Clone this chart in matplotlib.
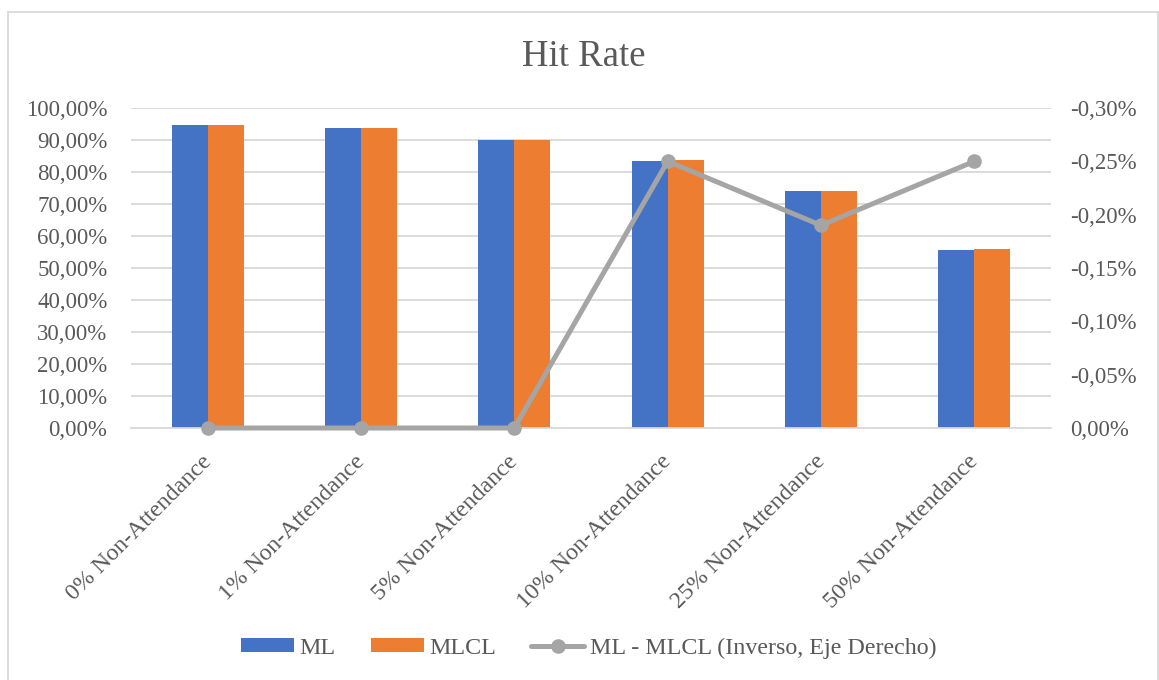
import matplotlib.pyplot as plt
import matplotlib.transforms as mtransforms
from matplotlib.lines import Line2D
from matplotlib.patches import Patch
import numpy as np

categorias = ['0% Non-Attendance', '1% Non-Attendance', '5% Non-Attendance',
              '10% Non-Attendance', '25% Non-Attendance', '50% Non-Attendance']
hit_ml = [94.7, 93.6, 90.0, 83.4, 74.0, 55.5]
hit_mlcl = [94.7, 93.6, 90.0, 83.7, 74.0, 55.8]
diferencia = [0.0, 0.0, 0.0, -0.25, -0.19, -0.25]

azul = '#4472C4'
naranja = '#ED7D31'
gris = '#A5A5A5'
texto = '#595959'

plt.rcParams['font.family'] = ['Liberation Serif', 'DejaVu Serif']

fig = plt.figure(figsize=(11.59, 6.8), dpi=100)
ax = fig.add_axes([131 / 1159, 1 - 428 / 680, 920 / 1159, 320 / 680])

x = np.arange(len(categorias))
ancho = 0.235
ax.bar(x - ancho / 2, hit_ml, ancho, color=azul, zorder=2)
ax.bar(x + ancho / 2, hit_mlcl, ancho, color=naranja, zorder=2)

ax.set_xlim(-0.5, len(categorias) - 0.5)
ax.set_ylim(0, 100)
ax.set_yticks(np.arange(0, 101, 10))
ax.set_yticklabels([f'{v:.2f}%'.replace('.', ',') for v in np.arange(0, 101, 10)])
ax.yaxis.grid(True, color='#D9D9D9', linewidth=1.3, zorder=0)
ax.set_axisbelow(True)
for s in ax.spines.values():
    s.set_visible(False)
ax.spines['bottom'].set_visible(True)
ax.spines['bottom'].set_color('#D9D9D9')
ax.spines['bottom'].set_linewidth(1.3)
ax.tick_params(axis='y', length=0, pad=17, labelsize=16.5, labelcolor=texto)
ax.tick_params(axis='x', length=0, pad=16, labelsize=17.2, labelcolor=texto)
ax.set_xticks(x)
ax.set_xticklabels(categorias, rotation=45, ha='right', va='top')
desplazar = mtransforms.ScaledTranslation(8 / 100, -1 / 100, fig.dpi_scale_trans)
for lbl in ax.get_xticklabels():
    lbl.set_transform(lbl.get_transform() + desplazar)

# eje derecho invertido para la diferencia
ax2 = ax.twinx()
ax2.plot(x, diferencia, color=gris, linewidth=3.6, marker='o', markersize=9.5,
         solid_capstyle='round', zorder=3, clip_on=False)
ax2.set_ylim(0, -0.30)
ticks2 = np.round(np.arange(0, -0.301, -0.05), 2)
ax2.set_yticks(ticks2)
ax2.set_yticklabels([f'{v:.2f}%'.replace('.', ',') if v != 0 else '0,00%' for v in ticks2])
for s in ax2.spines.values():
    s.set_visible(False)
ax2.tick_params(axis='y', length=0, pad=14, labelsize=16.5, labelcolor=texto)

fig.text(584 / 1159, 1 - 57 / 680, 'Hit Rate', ha='center', va='center', fontsize=26.5, color=texto)

manejadores = [
    Patch(facecolor=azul, label='ML'),
    Patch(facecolor=naranja, label='MLCL'),
    Line2D([0], [0], color=gris, linewidth=3.6, marker='o', markersize=9.5,
           solid_capstyle='round', label='ML - MLCL (Inverso, Eje Derecho)'),
]
fig.legend(handles=manejadores, loc='center', bbox_to_anchor=(0.508, 1 - 648 / 680),
           ncol=3, frameon=False, fontsize=17.3, labelcolor=texto,
           handlelength=2.2, handleheight=0.52, handletextpad=0.25, columnspacing=1.45)

# marco del gráfico
for xs, ys in [([8, 8], [12, 680]), ([8, 1158], [12, 12]), ([1158, 1158], [12, 680])]:
    fig.add_artist(Line2D([v / 1159 for v in xs], [1 - v / 680 for v in ys],
                          transform=fig.transFigure, color='#D9D9D9', linewidth=1.3))

fig.savefig('out.png', dpi=100)
